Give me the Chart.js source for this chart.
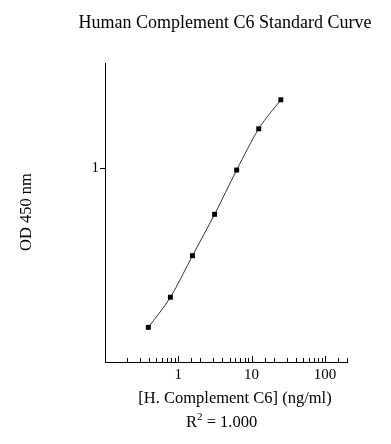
<!DOCTYPE html>
<html>
<head>
<meta charset="utf-8">
<script src="https://cdn.jsdelivr.net/npm/chart.js@4/dist/chart.umd.min.js"></script>
<style>
  html, body { margin: 0; padding: 0; background: #fff; }
  canvas { display: block; }
</style>
</head>
<body>
<canvas id="chart" width="391" height="444"></canvas>
<script>
// standard curve: concentration (ng/ml) vs OD 450 nm
const concentrations = [0.39, 0.78, 1.56, 3.125, 6.25, 12.5, 25];
const odValues = [0.151, 0.216, 0.354, 0.579, 0.98, 1.60, 2.26];
const xTickLabels = [1, 10, 100];
const yTickLabels = [1];

const titleText = 'Human Complement C6 Standard Curve';
const xTitle = '[H. Complement C6] (ng/ml)';
const yTitle = 'OD 450 nm';
const r2Value = '1.000';

const serif = '"Liberation Serif", "DejaVu Serif", serif';

// text around the plot + inward ticks on x axis
const decorations = {
  id: 'decorations',
  afterDraw(chart) {
    const {ctx, scales: {x}} = chart;
    const area = chart.chartArea;
    ctx.save();
    ctx.strokeStyle = '#000';
    ctx.lineWidth = 1;
    x.ticks.forEach(t => {
      const px = Math.round(x.getPixelForValue(t.value)) + 0.5;
      const major = xTickLabels.includes(t.value);
      const len = major ? 6 : 4;
      ctx.beginPath();
      ctx.moveTo(px, area.bottom);
      ctx.lineTo(px, area.bottom - len);
      ctx.stroke();
    });

    ctx.fillStyle = '#000';
    ctx.textAlign = 'center';
    ctx.textBaseline = 'middle';
    ctx.font = '18px ' + serif;
    ctx.fillText(titleText, 225, 23);
    ctx.font = '16.5px ' + serif;
    ctx.fillText(xTitle, 235, 399);

    // R² line with a raised small 2
    ctx.textAlign = 'left';
    ctx.font = '16.5px ' + serif;
    ctx.fillText('R', 186, 423);
    const rw = ctx.measureText('R').width;
    ctx.font = '11px ' + serif;
    ctx.fillText('2', 186 + rw, 417);
    const sw = ctx.measureText('2').width;
    ctx.font = '16.5px ' + serif;
    ctx.fillText(' = ' + r2Value, 186 + rw + sw, 423);

    ctx.textAlign = 'center';
    ctx.translate(27, 212);
    ctx.rotate(-Math.PI / 2);
    ctx.font = '16.5px ' + serif;
    ctx.fillText(yTitle, 0, 0);
    ctx.restore();
  }
};

new Chart(document.getElementById('chart'), {
  type: 'line',
  data: {
    datasets: [{
      data: concentrations.map((c, i) => ({x: c, y: odValues[i]})),
      borderColor: '#333',
      borderWidth: 1,
      cubicInterpolationMode: 'monotone',
      pointStyle: 'rect',
      pointRadius: 3.5,
      pointBackgroundColor: '#000',
      pointBorderColor: '#000',
      pointBorderWidth: 0
    }]
  },
  options: {
    responsive: false,
    animation: false,
    layout: {padding: {left: 0, right: 44, top: 63, bottom: 0}},
    plugins: {
      legend: {display: false},
      tooltip: {enabled: false}
    },
    scales: {
      x: {
        type: 'logarithmic',
        min: 0.1,
        max: 200,
        afterFit: s => { s.height = 82; },
        border: {display: true, color: '#000', width: 1},
        grid: {display: true, drawOnChartArea: false, drawTicks: false, color: 'transparent'},
        ticks: {
          autoSkip: false,
          maxRotation: 0,
          padding: 4,
          color: '#000',
          font: {family: serif, size: 15},
          callback: v => xTickLabels.includes(v) ? String(v) : ''
        }
      },
      y: {
        type: 'logarithmic',
        min: 0.1,
        max: 3.5,
        afterFit: s => { s.width = 105; },
        border: {display: true, color: '#000', width: 1},
        grid: {
          drawOnChartArea: false,
          drawTicks: true,
          tickLength: 5,
          color: c => (c.tick && yTickLabels.includes(c.tick.value)) ? '#000' : 'transparent'
        },
        ticks: {
          autoSkip: false,
          padding: 1,
          color: '#000',
          font: {family: serif, size: 15},
          callback: v => yTickLabels.includes(v) ? String(v) : ''
        }
      }
    }
  },
  plugins: [decorations]
});
</script>
</body>
</html>
